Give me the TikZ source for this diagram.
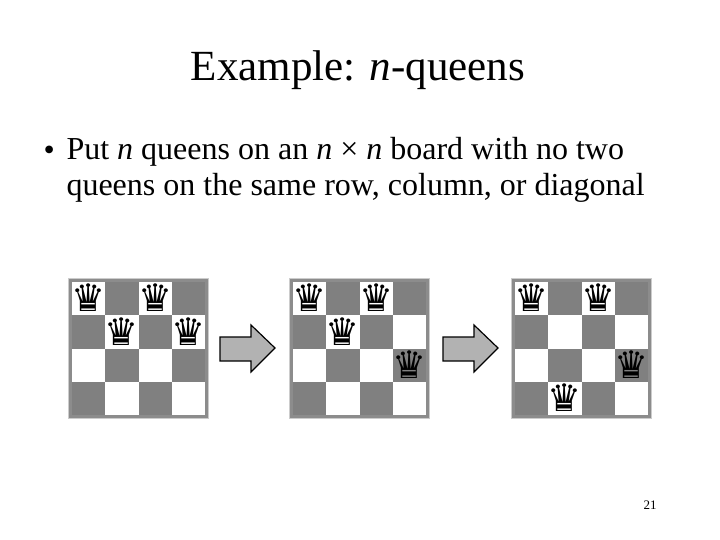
\documentclass[tikz,border=0pt]{standalone}
\usepackage{fontspec}
\setmainfont{Liberation Serif}
\newfontfamily\qfont{DejaVu Sans}
\begin{document}
\begin{tikzpicture}[x=1pt,y=-1pt,
  queen/.style={font=\qfont\fontsize{38}{38}\selectfont, inner sep=0pt},
  arrowshape/.style={fill=black!30, draw=black, line width=1.2pt, line join=miter}]
\useasboundingbox (0,0) rectangle (720,540);
\node[font=\fontsize{43}{48}\selectfont] (title) at (358,70) {Example: \textit{n}-queens};
\node[anchor=west, font=\fontsize{32}{36}\selectfont] (b) at (40,153) {•};
\node[anchor=west, font=\fontsize{32}{36}\selectfont, align=left] (t) at (63,170)
  {Put \textit{n} queens on an \textit{n} × \textit{n} board with no two\\queens on the same row, column, or diagonal};
\node[font=\fontsize{13}{14}\selectfont] (pg) at (650,505) {21};
\foreach \bx/\qs [count=\k] in {68/{0/0,2/0,1/1,3/1}, 289/{0/0,2/0,1/1,3/2}, 511/{0/0,2/0,3/2,1/3}}{
  \fill[black!45] (\bx,278) rectangle +(141,141);
  \draw[black!20, line width=0.8pt] (\bx+0.5,278.5) rectangle +(140,140);
  \fill[white] (\bx+4,282) rectangle +(133,133);
  \foreach \c in {0,...,3}{\foreach \r in {0,...,3}{
    \pgfmathtruncatemacro\odd{mod(\c+\r,2)}
    \ifnum\odd=1 \fill[black!50] (\bx+4+\c*33.25,282+\r*33.25) rectangle +(33.25,33.25);\fi
  }}
  \foreach \c/\r in \qs {
    \node[queen] at (\bx+4+\c*33.25+16.6,282+\r*33.25+16) {♛};
  }
}
\foreach \ax in {220,443}{
  \draw[arrowshape] (\ax,337) -- (\ax+31,337) -- (\ax+31,325) -- (\ax+55,348) -- (\ax+31,372) -- (\ax+31,361) -- (\ax,361) -- cycle;
}
\end{tikzpicture}
\end{document}
